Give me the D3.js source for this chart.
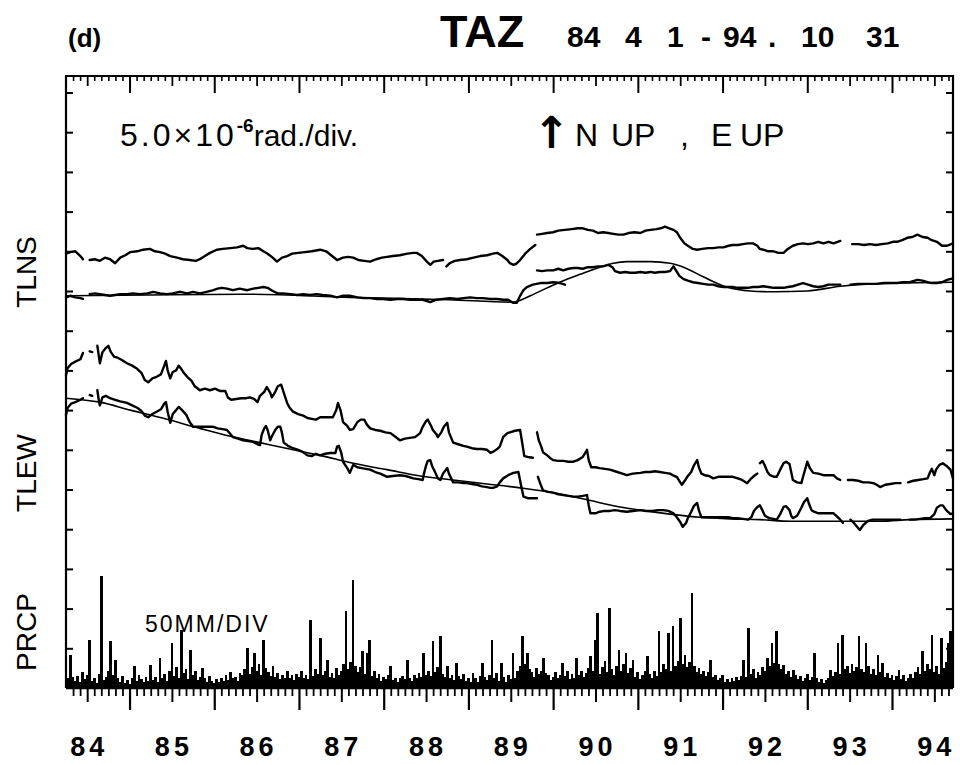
<!DOCTYPE html>
<html><head><meta charset="utf-8">
<script src="https://cdn.jsdelivr.net/npm/d3@7"></script>
<style>body{margin:0;background:#fff} svg{display:block}</style>
</head><body><svg id="c" width="960" height="765"></svg>
<script>
// ---------------- DATA ----------------
// time axis: decimal years (1984-04-01 .. 1994-10-31), tilt in 10^-6 rad (5.0 per division), rain in mm (50 per division)
const yearLabels = ["84","85","86","87","88","89","90","91","92","93","94"];
const labelYears = [1984,1985,1986,1987,1988,1989,1990,1991,1992,1993,1994];
const tiltTicks = [5,10,15,20,25,30,35,40,45,50,55,60,65,70,75];

const tlnsUpper = [[1984.25,54.7],[1984.30,54.9],[1984.36,55.0],[1984.42,54.4],[1984.45,54.0],null,
[1984.53,53.9],[1984.59,54.0],[1984.65,53.8],[1984.71,54.2],[1984.77,54.0],[1984.83,53.5],[1984.89,54.2],[1984.95,54.5],[1985.01,54.9],[1985.09,55.0],[1985.16,55.2],[1985.24,55.3],[1985.30,55.0],[1985.36,54.9],[1985.42,54.7],[1985.48,54.4],[1985.56,54.2],[1985.63,54.0],[1985.71,53.9],[1985.78,53.8],[1985.83,54.0],[1985.89,54.4],[1985.95,54.8],[1986.03,55.2],[1986.10,55.3],[1986.19,55.4],[1986.27,55.5],[1986.34,55.7],[1986.39,55.4],[1986.45,55.3],[1986.52,55.4],[1986.58,55.0],[1986.63,54.7],[1986.69,54.2],[1986.74,53.7],[1986.80,54.2],[1986.86,54.4],[1986.92,54.7],[1986.99,54.8],[1987.07,54.9],[1987.15,55.0],[1987.25,55.2],[1987.32,55.0],[1987.38,54.5],[1987.45,53.9],[1987.52,54.2],[1987.58,54.3],[1987.64,54.2],[1987.70,53.9],[1987.77,53.8],[1987.84,53.7],[1987.91,54.0],[1987.98,54.2],[1988.04,54.3],[1988.11,54.4],[1988.19,54.5],[1988.28,54.7],[1988.35,54.8],[1988.39,54.8],[1988.45,54.4],[1988.51,53.7],[1988.55,53.3],[1988.59,53.7],[1988.64,53.8],[1988.70,53.9],null,
[1988.74,53.1],[1988.78,53.5],[1988.84,53.8],[1988.90,53.9],[1988.98,54.0],[1989.06,54.2],[1989.14,54.4],[1989.22,54.5],[1989.29,54.7],[1989.34,54.8],[1989.40,54.4],[1989.46,53.9],[1989.49,53.5],[1989.53,53.3],[1989.56,53.4],[1989.61,53.9],[1989.67,54.7],[1989.73,55.3],[1989.79,55.8],null,
[1989.81,57.1],[1989.87,57.2],[1989.93,57.3],[1990.00,57.4],[1990.06,57.6],[1990.14,57.7],[1990.22,57.8],[1990.29,57.9],[1990.35,57.9],[1990.41,57.7],[1990.47,57.6],[1990.53,57.3],[1990.59,57.4],[1990.65,57.3],[1990.71,57.2],[1990.77,57.1],[1990.83,57.1],[1990.89,57.3],[1990.96,57.4],[1991.03,57.3],[1991.09,57.6],[1991.15,57.7],[1991.22,57.8],[1991.27,57.9],[1991.32,58.1],[1991.37,57.9],[1991.42,57.7],[1991.46,57.4],[1991.50,56.7],[1991.55,56.0],[1991.59,55.7],[1991.65,55.3],[1991.70,55.2],[1991.76,55.3],[1991.83,55.4],[1991.89,55.4],[1991.95,55.5],[1992.01,55.5],[1992.07,55.7],[1992.12,55.8],[1992.18,55.8],[1992.24,55.9],[1992.30,56.0],[1992.36,56.0],[1992.41,55.7],[1992.44,55.3],[1992.48,55.2],[1992.54,55.0],[1992.60,55.0],[1992.66,54.8],[1992.72,54.8],[1992.77,55.3],[1992.83,55.7],[1992.89,55.9],[1992.95,56.0],[1993.01,55.9],[1993.07,56.0],[1993.13,56.2],[1993.19,56.0],[1993.25,56.2],[1993.31,56.0],[1993.39,56.3],null,
[1993.53,55.9],[1993.60,55.9],[1993.67,55.8],[1993.74,55.9],[1993.81,55.8],[1993.88,55.9],[1993.95,56.0],[1994.01,56.2],[1994.06,56.2],[1994.12,56.4],[1994.18,56.7],[1994.24,56.8],[1994.30,57.1],[1994.36,56.8],[1994.42,56.7],[1994.47,56.4],[1994.53,56.2],[1994.59,55.7],[1994.65,55.7],[1994.72,56.0]];

const tlnsLower = [[1984.25,49.2],[1984.30,49.4],[1984.36,49.2],[1984.42,49.1],[1984.45,49.0],null,
[1984.53,49.6],[1984.59,49.7],[1984.65,49.6],[1984.71,49.5],[1984.77,49.4],[1984.83,49.5],[1984.89,49.6],[1984.97,49.6],[1985.04,49.7],[1985.12,49.6],[1985.21,49.7],[1985.28,49.9],[1985.36,49.7],[1985.44,49.6],[1985.51,49.7],[1985.60,49.9],[1985.68,49.7],[1985.75,49.9],[1985.83,49.7],[1985.91,49.9],[1985.99,50.1],[1986.04,50.3],[1986.09,50.4],[1986.15,50.3],[1986.22,50.1],[1986.30,50.3],[1986.39,50.1],[1986.46,50.3],[1986.52,50.4],[1986.58,50.5],[1986.63,50.4],[1986.69,50.0],[1986.75,49.7],[1986.81,49.7],[1986.90,49.6],[1986.98,49.5],[1987.05,49.6],[1987.13,49.5],[1987.21,49.6],[1987.28,49.5],[1987.37,49.4],[1987.45,49.2],[1987.52,49.4],[1987.60,49.4],[1987.69,49.2],[1987.76,49.1],[1987.84,49.1],[1987.92,49.0],[1987.99,49.0],[1988.08,48.9],[1988.16,49.0],[1988.23,49.0],[1988.31,48.9],[1988.39,48.9],[1988.46,48.9],[1988.55,48.6],[1988.62,48.9],[1988.70,49.0],[1988.78,49.1],[1988.87,49.0],[1988.94,49.1],[1989.02,49.2],[1989.10,49.1],[1989.17,49.1],[1989.26,49.0],[1989.34,49.0],[1989.41,48.9],[1989.47,48.9],[1989.53,48.5],[1989.57,48.5],[1989.61,49.4],[1989.65,50.1],[1989.69,50.5],[1989.76,50.8],[1989.85,51.0],[1989.93,51.0],[1990.00,51.1],[1990.08,51.0],[1990.14,50.8],null,
[1989.81,52.6],[1989.87,52.5],[1989.93,52.6],[1990.00,52.6],[1990.06,52.8],[1990.12,52.6],[1990.18,52.8],[1990.24,52.9],[1990.29,52.9],[1990.35,52.8],[1990.41,53.0],[1990.47,53.0],[1990.53,53.1],[1990.59,53.1],[1990.65,53.3],[1990.70,53.0],[1990.73,52.5],[1990.79,52.3],[1990.85,52.4],[1990.91,52.3],[1990.97,52.3],[1991.03,52.4],[1991.09,52.3],[1991.15,52.4],[1991.20,52.3],[1991.26,52.4],[1991.32,52.4],[1991.38,52.5],[1991.42,53.1],[1991.45,52.6],[1991.49,51.9],[1991.54,51.5],[1991.59,51.3],[1991.65,51.1],[1991.71,51.0],[1991.77,50.9],[1991.83,50.8],[1991.89,50.8],[1991.95,50.6],[1992.01,50.5],[1992.07,50.5],[1992.12,50.5],[1992.18,50.4],[1992.24,50.4],[1992.30,50.4],[1992.36,50.5],[1992.42,50.5],[1992.48,50.6],[1992.54,50.5],[1992.60,50.4],[1992.66,50.4],[1992.72,50.4],[1992.77,50.5],[1992.83,50.6],[1992.89,50.8],[1992.95,51.0],[1993.01,50.8],[1993.07,50.6],[1993.13,50.5],[1993.19,50.6],[1993.25,50.8],[1993.31,50.8],[1993.39,50.8],null,
[1993.51,50.8],[1993.59,50.9],[1993.66,50.9],[1993.74,50.9],[1993.82,50.9],[1993.90,51.0],[1993.98,51.0],[1994.06,51.0],[1994.13,51.1],[1994.21,51.1],[1994.30,51.4],[1994.36,51.3],[1994.42,51.1],[1994.47,51.0],[1994.53,51.0],[1994.59,51.1],[1994.65,51.4],[1994.72,51.6]];

const tlnsTrend = [[1984.25,49.4],[1985.24,49.5],[1986.42,49.6],[1987.60,49.2],[1988.78,48.9],[1989.53,48.6],[1989.73,49.4],[1989.91,50.3],[1990.08,51.1],[1990.32,52.1],[1990.55,53.0],[1990.71,53.5],[1990.87,53.7],[1991.15,53.7],[1991.38,53.5],[1991.54,53.0],[1991.77,51.8],[1992.05,50.5],[1992.33,50.0],[1992.60,49.9],[1993.00,50.0],[1993.39,50.6],[1993.74,50.9],[1994.10,51.0],[1994.72,51.1]];

const tlewUpper = [[1984.25,39.4],[1984.27,40.3],[1984.31,40.8],[1984.36,41.1],[1984.42,41.4],[1984.45,42.2],null,
[1984.53,42.4],[1984.56,42.3],null,
[1984.62,43.1],[1984.64,41.6],[1984.65,40.9],[1984.68,42.3],[1984.71,42.7],[1984.75,43.1],[1984.78,42.3],[1984.82,41.7],[1984.86,41.6],[1984.91,41.3],[1984.97,40.9],[1985.03,40.6],[1985.09,40.2],[1985.14,39.7],[1985.18,38.8],[1985.22,38.5],[1985.27,39.0],[1985.32,39.2],[1985.37,39.5],[1985.41,40.6],[1985.43,41.2],[1985.45,40.0],[1985.48,39.0],[1985.51,39.8],[1985.55,40.0],[1985.58,40.6],[1985.61,40.2],[1985.64,39.7],[1985.68,39.2],[1985.73,38.7],[1985.77,38.0],[1985.83,37.5],[1985.89,37.7],[1985.95,37.5],[1986.01,37.7],[1986.07,37.4],[1986.13,37.4],[1986.16,36.6],[1986.20,36.3],[1986.26,36.4],[1986.32,36.5],[1986.38,36.5],[1986.42,36.6],[1986.47,36.4],[1986.51,36.0],[1986.54,36.8],[1986.59,37.3],[1986.62,37.9],[1986.66,37.2],[1986.68,36.6],[1986.72,37.3],[1986.75,38.0],[1986.79,38.2],[1986.82,37.2],[1986.86,35.9],[1986.89,35.3],[1986.93,34.8],[1986.99,34.5],[1987.05,34.3],[1987.10,34.0],[1987.15,33.9],[1987.20,33.8],[1987.25,34.1],[1987.32,34.1],[1987.40,34.1],[1987.44,35.0],[1987.46,35.9],[1987.49,35.0],[1987.52,33.5],[1987.57,33.0],[1987.60,32.5],[1987.64,32.6],[1987.69,33.5],[1987.73,33.8],[1987.77,33.8],[1987.80,33.2],[1987.84,32.7],[1987.90,32.5],[1987.96,32.4],[1988.02,32.2],[1988.08,32.1],[1988.13,31.7],[1988.19,31.2],[1988.25,31.4],[1988.31,31.5],[1988.37,31.6],[1988.43,32.1],[1988.46,32.9],[1988.50,33.6],[1988.52,33.8],[1988.56,33.0],[1988.58,32.5],[1988.62,32.0],[1988.64,31.6],[1988.68,32.2],[1988.71,32.9],[1988.75,33.4],[1988.77,32.2],[1988.82,30.9],[1988.88,30.7],[1988.94,30.5],[1988.98,30.4],[1989.04,30.2],[1989.10,30.1],[1989.16,30.1],[1989.22,30.0],[1989.26,29.6],[1989.30,29.8],[1989.34,30.1],[1989.37,30.4],[1989.41,31.6],[1989.46,32.1],[1989.49,32.2],[1989.55,32.4],[1989.61,32.5],[1989.63,31.2],[1989.66,29.2],[1989.70,29.1],[1989.76,29.0],null,
[1989.81,32.2],[1989.83,31.2],[1989.86,30.4],[1989.88,29.7],[1989.93,29.3],[1989.96,29.0],[1990.00,28.7],[1990.06,28.6],[1990.12,28.6],[1990.18,28.5],[1990.24,28.5],[1990.29,28.7],[1990.35,29.1],[1990.39,29.8],[1990.40,30.0],[1990.42,28.7],[1990.45,27.8],[1990.50,27.8],[1990.55,27.7],[1990.61,27.6],[1990.67,27.5],[1990.73,27.3],[1990.79,27.1],[1990.87,26.8],[1990.94,27.0],[1991.03,27.1],[1991.09,27.2],[1991.15,27.2],[1991.20,27.3],[1991.26,27.2],[1991.32,27.1],[1991.38,27.0],[1991.43,26.7],[1991.46,26.6],[1991.50,25.9],[1991.52,25.6],[1991.56,26.2],[1991.59,26.7],[1991.63,27.2],[1991.66,28.0],[1991.70,28.7],[1991.72,27.8],[1991.75,27.0],[1991.79,26.8],[1991.84,26.7],[1991.89,26.4],[1991.95,26.6],[1992.01,26.6],[1992.07,26.6],[1992.12,26.6],[1992.18,26.4],[1992.23,26.2],[1992.29,25.8],[1992.33,26.3],[1992.37,26.7],[1992.41,27.0],null,
[1992.44,28.3],[1992.47,28.6],[1992.50,28.0],[1992.53,27.2],[1992.56,26.8],[1992.61,26.6],[1992.64,26.6],[1992.68,27.5],[1992.72,28.3],[1992.75,28.5],[1992.79,28.2],[1992.81,27.2],[1992.83,26.2],[1992.88,25.9],[1992.93,25.8],[1992.95,26.6],[1992.99,28.1],[1993.00,28.5],[1993.03,27.7],[1993.07,27.1],[1993.13,27.0],[1993.19,26.8],[1993.25,26.8],[1993.31,26.8],[1993.35,26.4],[1993.39,26.2],null,
[1993.48,26.2],[1993.54,26.2],[1993.60,26.1],[1993.66,25.9],[1993.72,25.9],[1993.78,25.8],[1993.82,25.6],[1993.86,25.3],[1993.92,25.6],[1993.98,25.7],[1994.04,25.8],[1994.10,25.8],null,
[1994.19,25.9],[1994.25,26.1],[1994.31,26.2],[1994.37,26.3],[1994.42,26.4],[1994.45,27.2],[1994.47,27.6],[1994.50,26.8],[1994.52,27.5],[1994.56,28.1],[1994.60,28.3],[1994.64,28.0],[1994.69,27.5],[1994.72,26.4]];

const tlewLower = [[1984.25,34.4],[1984.27,35.3],[1984.31,35.8],[1984.36,36.0],[1984.42,36.3],[1984.45,36.5],null,
[1984.53,36.9],[1984.56,36.8],null,
[1984.62,37.5],[1984.64,36.0],[1984.65,35.6],[1984.68,36.6],[1984.72,36.8],[1984.77,36.5],[1984.83,36.3],[1984.89,36.1],[1984.97,35.9],[1985.03,35.6],[1985.09,35.3],[1985.14,34.9],[1985.18,34.3],[1985.22,34.1],[1985.27,34.5],[1985.32,34.8],[1985.37,35.1],[1985.41,35.8],[1985.43,36.0],[1985.45,34.8],[1985.48,33.4],[1985.51,34.5],[1985.55,35.0],[1985.58,35.4],[1985.62,35.0],[1985.67,34.4],[1985.71,33.5],[1985.75,32.9],[1985.81,32.9],[1985.87,32.9],[1985.93,32.9],[1985.99,32.9],[1986.04,32.7],[1986.10,32.6],[1986.15,32.5],[1986.19,32.0],[1986.22,31.6],[1986.28,31.4],[1986.34,31.2],[1986.40,31.1],[1986.46,31.0],[1986.51,30.7],[1986.54,30.6],[1986.56,31.9],[1986.59,32.7],[1986.61,33.0],[1986.63,32.5],[1986.66,31.2],[1986.68,31.7],[1986.72,32.5],[1986.75,32.9],[1986.78,32.9],[1986.80,32.1],[1986.82,30.9],[1986.87,30.5],[1986.93,30.2],[1986.99,30.0],[1987.05,29.7],[1987.10,29.3],[1987.15,29.2],[1987.20,29.5],[1987.25,29.3],[1987.31,29.5],[1987.37,29.6],[1987.43,29.6],[1987.45,30.4],[1987.47,30.5],[1987.50,29.6],[1987.52,28.5],[1987.57,27.7],[1987.60,27.1],[1987.64,28.1],[1987.69,27.8],[1987.74,27.7],[1987.79,27.6],[1987.84,27.5],[1987.90,27.2],[1987.96,27.0],[1988.04,26.6],[1988.11,26.7],[1988.19,26.8],[1988.26,26.7],[1988.35,26.4],[1988.41,26.3],[1988.46,26.2],[1988.48,27.2],[1988.50,28.0],[1988.52,28.6],[1988.55,28.7],[1988.57,28.0],[1988.61,27.1],[1988.64,26.4],[1988.67,26.2],[1988.70,27.0],[1988.75,27.7],[1988.77,27.0],[1988.82,25.9],[1988.88,25.9],[1988.94,25.8],[1988.98,25.8],[1989.04,25.7],[1989.10,25.6],[1989.16,25.4],[1989.22,25.3],[1989.26,25.2],[1989.29,25.2],[1989.34,25.4],[1989.37,25.9],[1989.41,26.4],[1989.47,26.8],[1989.53,27.1],[1989.59,27.2],[1989.62,25.6],[1989.65,24.1],[1989.70,23.9],[1989.76,23.9],[1989.81,23.9],null,
[1989.82,26.6],[1989.85,25.7],[1989.88,24.9],[1989.94,24.7],[1990.00,24.6],[1990.06,24.4],[1990.12,24.3],[1990.18,24.2],[1990.24,24.1],[1990.29,24.1],[1990.35,24.2],[1990.40,24.3],[1990.42,23.0],[1990.44,22.0],[1990.50,22.0],[1990.55,22.2],[1990.61,22.3],[1990.67,22.3],[1990.73,22.4],[1990.79,22.3],[1990.87,22.2],[1990.94,22.3],[1991.03,22.4],[1991.10,22.3],[1991.17,22.3],[1991.24,22.4],[1991.30,22.4],[1991.36,22.3],[1991.42,22.0],[1991.46,21.5],[1991.50,20.9],[1991.53,20.3],[1991.57,20.8],[1991.59,21.4],[1991.63,22.2],[1991.66,22.9],[1991.70,23.3],[1991.72,22.4],[1991.75,21.5],[1991.81,21.5],[1991.88,21.5],[1991.95,21.5],[1992.01,21.5],[1992.07,21.5],[1992.12,21.4],[1992.18,21.4],[1992.24,21.3],[1992.30,21.2],[1992.34,21.5],[1992.37,22.3],[1992.41,22.8],[1992.44,23.0],[1992.47,22.4],[1992.50,21.7],[1992.55,21.4],[1992.60,21.3],[1992.64,21.2],[1992.68,21.9],[1992.72,22.8],[1992.75,22.9],[1992.79,22.4],[1992.81,21.7],[1992.83,21.4],[1992.88,21.7],[1992.93,22.7],[1992.96,23.4],[1993.00,23.9],[1993.02,23.2],[1993.05,22.4],[1993.08,22.2],[1993.13,22.0],[1993.19,22.0],[1993.25,22.0],[1993.31,22.0],[1993.34,21.7],[1993.39,21.2],[1993.42,20.8],null,
[1993.51,21.2],[1993.54,20.9],[1993.58,20.4],[1993.62,19.9],[1993.66,20.5],[1993.71,21.0],[1993.77,21.2],[1993.82,21.2],[1993.88,21.2],[1993.94,21.2],[1994.01,21.2],[1994.10,21.2],null,
[1994.21,21.2],[1994.27,21.2],[1994.33,21.3],[1994.39,21.4],[1994.45,21.4],[1994.50,21.9],[1994.53,22.7],[1994.57,23.0],[1994.60,23.0],[1994.64,22.4],[1994.69,21.9],[1994.72,22.0]];

const tlewTrend = [[1984.25,36.5],[1984.65,36.0],[1985.01,35.0],[1985.42,33.9],[1985.83,32.7],[1986.19,31.7],[1986.54,30.9],[1986.89,30.1],[1987.25,29.3],[1987.64,28.3],[1988.04,27.5],[1988.43,26.7],[1988.82,26.2],[1989.22,25.7],[1989.61,25.2],[1990.00,24.6],[1990.40,23.7],[1990.79,22.8],[1991.03,22.4],[1991.38,21.9],[1991.74,21.5],[1992.09,21.3],[1992.44,21.2],[1992.80,21.0],[1993.15,21.0],[1993.51,21.0],[1993.86,21.0],[1994.21,21.2],[1994.72,21.3]];

// precipitation, mm per ten-day period, starting 1984-04-01
const prcpStart = 1984.25;
const prcp = [18,12,42,14,9,15,7,20,11,16,60,9,13,6,18,141,10,14,22,59,16,35,12,8,15,6,10,5,13,28,9,17,11,7,14,9,
29,10,14,8,38,12,18,9,22,57,15,26,13,73,19,24,11,48,16,21,10,14,25,12,8,15,9,6,11,7,13,9,16,10,20,12,
14,9,19,16,24,50,18,27,44,22,30,17,60,25,20,15,28,14,19,11,17,13,21,12,16,10,18,14,22,13,17,11,86,15,24,18,
63,16,21,35,14,19,12,25,17,22,30,97,24,33,136,28,20,26,47,18,44,60,15,21,12,18,9,14,11,16,28,10,13,8,12,15,
11,35,13,9,16,12,19,14,44,17,22,15,59,20,26,66,18,14,28,12,17,10,32,15,11,18,9,13,8,19,12,7,15,32,14,10,
16,60,12,19,9,32,14,8,17,11,44,13,22,28,66,30,44,24,20,14,25,18,22,38,19,16,10,14,20,12,17,32,15,21,11,18,
13,38,16,22,14,19,25,40,21,60,94,18,26,34,20,101,24,17,28,48,22,30,44,19,25,35,14,20,11,16,22,40,18,13,21,15,
72,20,30,24,69,22,78,28,34,88,30,42,26,33,120,28,20,25,18,22,15,20,35,14,17,10,13,16,8,11,7,12,9,14,10,15,
35,14,76,18,24,12,20,16,26,22,38,28,57,32,72,30,24,29,18,22,14,23,17,11,15,9,13,18,10,14,44,12,8,11,6,10,
12,23,15,20,57,18,67,24,28,19,30,22,26,66,24,20,57,28,18,24,16,42,20,32,14,19,12,17,10,15,23,11,16,9,13,18,
12,20,26,18,47,22,30,24,67,20,28,18,63,25,33,57,72];

// ---------------- CHART ----------------
const FONT = "'Liberation Sans', Arial, 'DejaVu Sans', sans-serif";
const svg = d3.select("#c");
svg.append("rect").attr("width",960).attr("height",765).attr("fill","#fff");

const x = d3.scaleLinear().domain([1984.25, 1994.72]).range([66, 953]);
const y = d3.scaleLinear().domain([0, 75]).range([688, 92.5]);        // 5.0e-6 rad / div
const yP = d3.scaleLinear().domain([0, 750]).range([688, 92.5]);      // 50 mm / div
const [x0, x1] = x.range();
const yTop = 76, yBase = y(0);

// frame
svg.append("path")
  .attr("d", `M${x0},${yBase}V${yTop}H${x1}V${yBase}`)
  .attr("fill","none").attr("stroke","#000").attr("stroke-width",2.2);

// month ticks
const months = d3.range(4, 129).map(m => 1984 + m/12);
const isYear = v => Math.abs(v - Math.round(v)) < 1e-6;
const isHalf = v => Math.abs(v - Math.floor(v) - 0.5) < 1e-6;
const minorT = months.filter(v => !isYear(v) && !isHalf(v));
const halfT = months.filter(isHalf);
const yearT = months.filter(isYear);

function tickAxis(vals, len, yy, w) {
  const g = svg.append("g").attr("transform",`translate(0,${yy})`)
    .call(d3.axisBottom(x).tickValues(vals).tickSize(len).tickFormat("").tickSizeOuter(0));
  g.select(".domain").remove();
  g.selectAll("line").attr("stroke","#000").attr("stroke-width",w);
}
// top (inside)
tickAxis(minorT, 5, yTop, 1.6);
tickAxis(halfT, 10, yTop, 1.8);
tickAxis(yearT, 17, yTop, 2);
// bottom (outside, below baseline)
tickAxis(minorT, 8, yBase, 1.8);
tickAxis(halfT, 14, yBase, 2);
tickAxis(yearT, 22, yBase, 2.2);

// left and right inner ticks
const gl = svg.append("g").attr("transform",`translate(${x0},0)`)
  .call(d3.axisRight(y).tickValues(tiltTicks).tickSize(7).tickFormat(""));
gl.select(".domain").remove();
gl.selectAll("line").attr("stroke","#000").attr("stroke-width",2);
const gr = svg.append("g").attr("transform",`translate(${x1},0)`)
  .call(d3.axisLeft(y).tickValues(tiltTicks).tickSize(7).tickFormat(""));
gr.select(".domain").remove();
gr.selectAll("line").attr("stroke","#000").attr("stroke-width",2);

// year labels
svg.append("g").selectAll("text").data(yearLabels).join("text")
  .attr("x", (d,i) => x(labelYears[i] + 0.5) + 2)
  .attr("y", 756)
  .attr("text-anchor","middle")
  .attr("font-family",FONT).attr("font-weight","bold").attr("font-size",27)
  .attr("letter-spacing",4)
  .text(d => d);

// precipitation bars
svg.append("g").selectAll("line").data(prcp).join("line")
  .attr("x1",(d,i) => x(prcpStart + i/36)).attr("x2",(d,i) => x(prcpStart + i/36))
  .attr("y1", yP(0)).attr("y2", d => yP(d))
  .attr("stroke","#000").attr("stroke-width",2.7)
  .attr("shape-rendering","crispEdges");
svg.append("line").attr("x1",x0).attr("x2",x1).attr("y1",yBase).attr("y2",yBase)
  .attr("stroke","#000").attr("stroke-width",2.5);

// tilt traces
const line = d3.line().defined(d => d !== null).x(d => x(d[0])).y(d => y(d[1]));
const smooth = d3.line().x(d => x(d[0])).y(d => y(d[1])).curve(d3.curveMonotoneX);
[tlnsUpper, tlnsLower, tlewUpper, tlewLower].forEach(s => {
  svg.append("path").datum(s).attr("d", line)
    .attr("fill","none").attr("stroke","#000").attr("stroke-width",2.4)
    .attr("stroke-linejoin","round").attr("stroke-linecap","round");
});
[tlnsTrend, tlewTrend].forEach(s => {
  svg.append("path").datum(s).attr("d", smooth)
    .attr("fill","none").attr("stroke","#000").attr("stroke-width",1.6);
});

// titles / annotations
const T = (txt, xx, yy, size, weight, anchor) => svg.append("text")
  .attr("x",xx).attr("y",yy).attr("font-family",FONT).attr("font-size",size)
  .attr("font-weight",weight||"normal").attr("text-anchor",anchor||"start").text(txt);

T("(d)", 68, 47, 26, "bold");
T("TAZ", 440, 47, 45, "bold");
const dateTokens = ["84","4","1","-","94",".","10","31"];
const dateX = [567, 625, 667, 701, 723, 768, 801, 866];
dateTokens.forEach((t,i) => T(t, dateX[i], 47, 30, "bold"));

const u = svg.append("text").attr("x",120).attr("y",146)
  .attr("font-family",FONT).attr("font-size",32);
u.append("tspan").attr("letter-spacing",3).text("5.0×10");
u.append("tspan").attr("font-size",19).attr("font-weight","bold").attr("dy",-14).text("-6");
u.append("tspan").attr("dy",14).attr("font-size",30).text("rad./div.");

T("↑", 533, 148, 44, "bold").attr("font-family","'DejaVu Sans', sans-serif");
const dirTokens = ["N","UP",",","E","UP"];
const dirX = [575, 611, 680, 711, 740];
dirTokens.forEach((t,i) => T(t, dirX[i], 146, 32, "normal"));

// y-axis names
[["TLNS",272],["TLEW",473],["PRCP",632]].forEach(([t,cy]) => {
  svg.append("text").attr("transform",`translate(36,${cy}) rotate(-90)`)
    .attr("text-anchor","middle").attr("font-family",FONT).attr("font-size",28).text(t);
});

T("50MM/DIV", 145, 632, 23, "normal").attr("letter-spacing",2);
</script></body></html>
